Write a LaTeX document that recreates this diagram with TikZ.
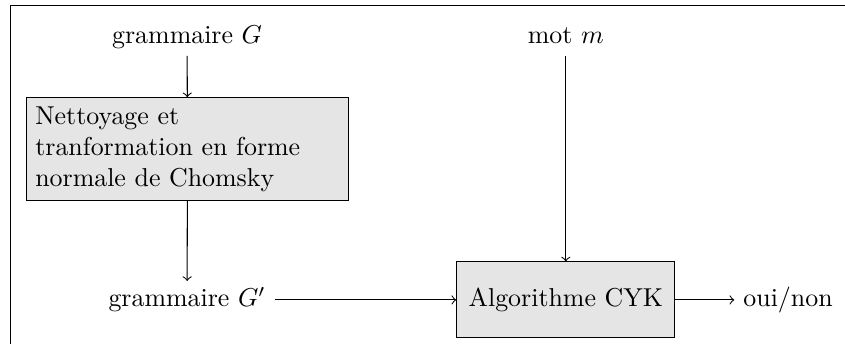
\documentclass[tikz,border=0pt]{standalone}
\usepackage{amsmath, amssymb}
\usepackage{tikz}
\usetikzlibrary{positioning}

\begin{document}
\begin{tikzpicture}[
    boite/.style={draw, fill=gray!20},
    etiq/.style={text height=1.5ex, text depth=.25ex},
    fleche/.style={->}
]

    % cadre (seuls les bords haut et gauche sont visibles)
    \useasboundingbox (0,0) rectangle (11.47,4.668);
    \draw (0.136,-1) rectangle (12.5,4.587);

    % entrées
    \node[etiq] (gram) at (2.54,4.166) {grammaire $G$};
    \node[etiq] (mot) at (7.68,4.166) {mot $m$};

    % nettoyage
    \node[boite, text width=4.13cm, align=left] (nett) at (2.544,2.646)
        {Nettoyage et\\ tranformation en forme\\ normale de Chomsky};

    % grammaire nettoyée et algorithme
    \node[etiq] (gramp) at (2.54,0.597) {grammaire $G'$};
    \node[boite, minimum height=1.03cm, minimum width=2.96cm] (cyk) at (7.68,0.597) {Algorithme CYK};
    \node[etiq, right=0.8cm of cyk] (rep) {oui/non};

    % flèches
    \draw[fleche] (gram) -- (nett);
    \draw[fleche] (nett) -- (gramp);
    \draw[fleche] (gramp) -- (cyk);
    \draw[fleche] (mot) -- (cyk);
    \draw[fleche] (cyk) -- (rep);

\end{tikzpicture}
\end{document}
